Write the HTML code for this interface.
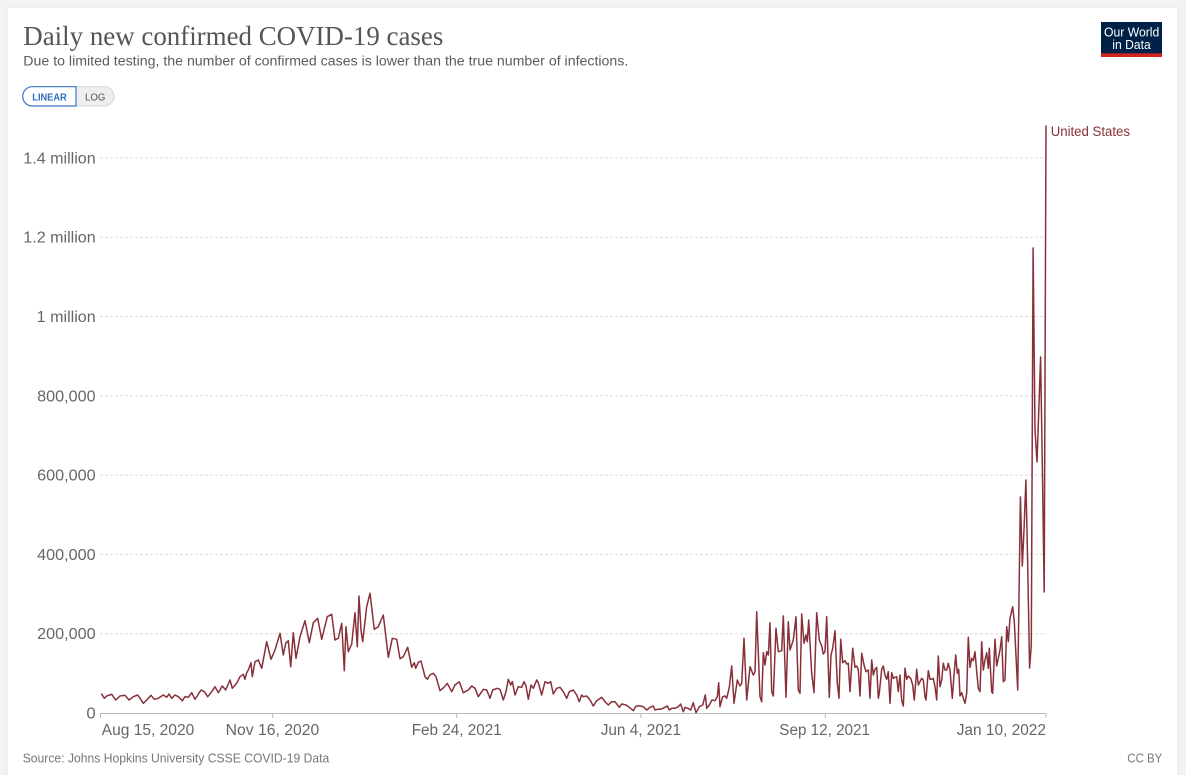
<!DOCTYPE html>
<html>
<head>
<meta charset="utf-8">
<style>
html,body{margin:0;padding:0;background:#f3f3f3;}
svg{display:block;}
text{font-family:"Liberation Sans",sans-serif;}
</style>
</head>
<body>
<svg width="1186" height="775" viewBox="0 0 1186 775" xmlns="http://www.w3.org/2000/svg">
  <rect x="0" y="0" width="1186" height="775" fill="#f3f3f3"/>
  <rect x="7" y="7" width="1171" height="790" fill="#ffffff" stroke="#e6e6e6" stroke-width="1"/>

  <!-- Title -->
  <text x="23.3" y="45" font-family="Liberation Serif, serif" style="font-family:'Liberation Serif',serif" font-size="27" fill="#555555" textLength="420" lengthAdjust="spacingAndGlyphs">Daily new confirmed COVID-19 cases</text>
  <text x="23.3" y="65.7" font-size="13.5" fill="#5b5b5b" textLength="605" lengthAdjust="spacingAndGlyphs">Due to limited testing, the number of confirmed cases is lower than the true number of infections.</text>

  <!-- Linear/Log toggle -->
  <rect x="22.7" y="86.7" width="91.3" height="19.3" rx="9.65" ry="9.65" fill="#eeeeee" stroke="#d6d6d6" stroke-width="1"/>
  <path d="M76,86.7 L32.35,86.7 A9.65,9.65 0 0 0 32.35,106 L76,106 Z" fill="#ffffff" stroke="#3a78c8" stroke-width="1.2"/>
  <text x="32.3" y="100.5" font-size="10" font-weight="bold" fill="#2b6bbf" textLength="34.4" lengthAdjust="spacingAndGlyphs">LINEAR</text>
  <text x="85" y="100.5" font-size="10" fill="#555555" textLength="20.3" lengthAdjust="spacingAndGlyphs">LOG</text>

  <!-- Logo -->
  <rect x="1101" y="22" width="61" height="35" fill="#002147"/>
  <rect x="1101" y="53.3" width="61" height="3.7" fill="#ce261e"/>
  <text x="1104" y="36.7" font-size="12.5" fill="#ffffff" textLength="55.3" lengthAdjust="spacingAndGlyphs">Our World</text>
  <text x="1112.3" y="49" font-size="12.5" fill="#ffffff" textLength="38.4" lengthAdjust="spacingAndGlyphs">in Data</text>

  <!-- Gridlines -->
  <g stroke="#dddddd" stroke-width="1" stroke-dasharray="3,2">
    <line x1="100" y1="633.7" x2="1046" y2="633.7"/>
    <line x1="100" y1="554.4" x2="1046" y2="554.4"/>
    <line x1="100" y1="475.1" x2="1046" y2="475.1"/>
    <line x1="100" y1="395.8" x2="1046" y2="395.8"/>
    <line x1="100" y1="316.5" x2="1046" y2="316.5"/>
    <line x1="100" y1="237.2" x2="1046" y2="237.2"/>
    <line x1="100" y1="157.9" x2="1046" y2="157.9"/>
  </g>

  <!-- Y labels -->
  <g font-size="15.5" fill="#666666" text-anchor="end">
    <text x="95.7" y="718.5" textLength="9.3" lengthAdjust="spacingAndGlyphs">0</text>
    <text x="95.7" y="639.2" textLength="58.5" lengthAdjust="spacingAndGlyphs">200,000</text>
    <text x="95.7" y="559.9" textLength="58.5" lengthAdjust="spacingAndGlyphs">400,000</text>
    <text x="95.7" y="480.6" textLength="58.5" lengthAdjust="spacingAndGlyphs">600,000</text>
    <text x="95.7" y="401.3" textLength="58.5" lengthAdjust="spacingAndGlyphs">800,000</text>
    <text x="95.7" y="322" textLength="59" lengthAdjust="spacingAndGlyphs">1 million</text>
    <text x="95.7" y="242.7" textLength="72.4" lengthAdjust="spacingAndGlyphs">1.2 million</text>
    <text x="95.7" y="163.4" textLength="72.4" lengthAdjust="spacingAndGlyphs">1.4 million</text>
  </g>

  <!-- X axis -->
  <line x1="100" y1="713.5" x2="1046.5" y2="713.5" stroke="#bbbbbb" stroke-width="1"/>
  <g stroke="#bbbbbb" stroke-width="1">
    <line x1="100.5" y1="713" x2="100.5" y2="718"/>
    <line x1="272.7" y1="713" x2="272.7" y2="718"/>
    <line x1="456.7" y1="713" x2="456.7" y2="718"/>
    <line x1="641" y1="713" x2="641" y2="718"/>
    <line x1="825.3" y1="713" x2="825.3" y2="718"/>
    <line x1="1046" y1="713" x2="1046" y2="718"/>
  </g>
  <g font-size="15.5" fill="#666666">
    <text x="101.7" y="735" textLength="92.6" lengthAdjust="spacingAndGlyphs">Aug 15, 2020</text>
    <text x="225.7" y="735" textLength="93.6" lengthAdjust="spacingAndGlyphs">Nov 16, 2020</text>
    <text x="411.7" y="735" textLength="90" lengthAdjust="spacingAndGlyphs">Feb 24, 2021</text>
    <text x="600.7" y="735" textLength="80.3" lengthAdjust="spacingAndGlyphs">Jun 4, 2021</text>
    <text x="779.3" y="735" textLength="90.7" lengthAdjust="spacingAndGlyphs">Sep 12, 2021</text>
    <text x="956.7" y="735" textLength="89.3" lengthAdjust="spacingAndGlyphs">Jan 10, 2022</text>
  </g>

  <!-- Series -->
  <polyline fill="none" stroke="#883039" stroke-width="1.5" stroke-linejoin="round" stroke-linecap="round" points="
101.7,694 104.3,698.3 106.7,696 111.7,694.3 115.7,700 120,696 125,695.3 129,700 133.3,696.7 137.7,695 140,698.3 143.3,703.3 146.7,700 151,695.3 154.3,699.3 158.3,698.3 163.3,695 166.7,697.3 169,694 171.7,698.3 175,695 178.3,696.7 182.3,700.7 185,696.7 188.3,697.3 191.7,692.7 195,699.3 201,690 204.3,691.7 207.7,696.7 211.7,691.7 215,686.7 218.3,692.7 222.3,686 225.7,690 230,680 232.3,688.3 236.7,683.3 240,676.7 243.3,674.3 245,679.3 246.7,672.7 248.3,670 251,662.7 252.3,676.7 255,661.7 258.3,660 261.7,668.3 266.7,641.7 271,659.3 275,650 280,633.3 283.3,655 285.7,643.3 288.3,640.7 290.7,666.7 293.3,632.7 296,658.3 300,636.7 305,620.7 309.3,642.7 313.3,622.7 317.7,618.3 321.7,639.3 327.3,616.7 331.7,614.3 335,640 338.3,638.3 341.7,623.3 344.3,670.7 346,626.7 348.3,651.7 351.7,644 355,612.7 357.3,646.7 359,596 361,630 362.7,641.7 366.7,606.7 370,593.3 374.3,629.3 378.3,626.7 383.3,615 388.3,657.3 392.3,638.3 396.7,639.3 400,658.7 403.3,656.7 407.7,647.3 411.7,667.3 414.3,662.7 415.7,668.3 418.3,662.3 421,661 425,676.7 427.3,679.3 430,675 433.3,673.3
436,676.7 440,690.7 444,687.3 447.3,683.3 451.7,691.7 455,685 459.3,681.7 463.3,692.7 468.3,690 471.7,686 475,688.3 478.3,696.7 483.3,689.3 486.7,690 490,698.3 492.7,690 497.3,688.3 500,689.3 503.3,700 506,691.7 508.3,679.3 510.7,685 512.3,681.7 515,695 518.3,686.7 521.7,687.3 524,681.7 526,686 528.3,699.3 531,685 533.3,688.3 536.7,680 538.3,682.7 541.7,695 545,681.7 548.3,683.3 550.7,681.7 553.3,694 556.7,688.3 560,687.3 563.3,691.7 566.7,698.3 569.3,691.7 573.3,690 576.7,695 579.3,701.7 581.7,695 583.3,696.7 586.7,696 590,700 593.3,706 596.7,700.7 601.7,697.3 605,701.7 608.3,705 611.7,701.7 615,701.7 619.3,707.3 621.7,704 626,705 629.3,707.3 633.3,710.7 636,706 640,706 643.3,706.7 646.7,710 650,707.3 653.3,706 655,710 657.3,709.3 660.7,709.3 665,707.3 667.3,706 669.3,710 671.7,708.3 675,708.3 678.3,706.7 680.7,704 683.3,711.7 685,707.3 687.7,708.3 690.7,710 693.3,702.7 696,712.7 699.3,706.7 702.7,705 705.3,695 706.7,708.3 709.3,705 712,700 715,700.7 717.3,696.7 718.7,682.7 720,706.7 722.7,696.7 725,696 726.7,698.3 729.3,687.3 731.7,666 734,703.3 737.3,680 740,686 741.7,683.3 744,638.3 746.7,700 750,666.7 753.3,675 755,671.7 756.7,611.7
760,696.7 761.7,701.7 763.3,652.7 765,665 766.7,651.7 768.3,655 770,622.7 771.7,691.7 773.3,696 776,628.3 778.3,651.7 781.7,650.7 783.3,616 786,697.3 788.3,621.7 790,650 793.3,640 796,616.7 798.3,690 800,693.3 801.7,614 804,643.3 806,635 807.3,641.7 808.7,620 811.7,673.3 814,692.7 816.7,612.7 819.3,640 821.7,646 823.3,654 825,651.7 826.7,616.7 829.3,697.3 831,655 832.7,648.3 835,630.7 837.3,683.3 839,698.3 840.7,639.3 842.7,662.7 845,660.7 846.7,664 848.3,663.3 850,691.7 852.7,648.3 855,667.3 856.7,666 858.3,669.3 860,696 861.7,653.3 864,665 866,671.7 868.3,670 870,698.3 871.7,660 873.3,675 875,669.3 876.7,667.3 878.3,698.3 879.3,693.3 881.7,669.3 883.3,666 885,675 886.7,679.3 888.3,671.7 890,703.3 891.7,672.7 893.3,678.3 895,677.3 896.7,676.7 898.3,691.7 900,675 901.7,700.7 903.3,706 905,668.3 906.7,679.3 908.3,676 910.7,678.3 912.7,685 914.3,700 916.7,669.3 918.3,685 920,681.7 921.7,678.3 923.3,680 925,696.7 926,700 928.3,670.7 930,679.3 931.7,679.3 933.3,678.3 935,686.7 936.7,700 938.3,656 940,686.7 941.7,680 943.3,663.3 945,670 946.7,670 948.3,663.3 950,670 952.3,698.3 954,675 955.7,655 957.3,673.3 958.7,669.3 960,696 961.7,692.7 963.3,698.3 965,703.3 966.7,693.3 968.3,637.3 970,667.3 971.7,658.3 973.3,660.7 975,651.7 976.7,671.7 978.3,688.3 980,691.7 981.7,641.7 983.3,670 985,660 986.7,652.7 988.3,668.3 989.3,648.3 991.7,691.7 992.7,693.3 995,639.3 996.7,666 998.3,658.3 1000,650 1001.7,636.7 1003.3,681.7 1005,680 1006.7,626.7 1008.3,641.7 1010,618.3 1012.7,606.7 1014.3,621.7 1017.7,690
1020.4,497 1022.3,566 1024,530 1025.9,480 1027.6,560 1029.6,668 1031.3,645 1033.1,248 1035,430 1037,462 1038.8,410 1040.6,357 1042.4,470 1044.2,592 1046,126"/>

  <!-- Series label -->
  <text x="1050.7" y="136" font-size="13.5" fill="#883039" textLength="79.3" lengthAdjust="spacingAndGlyphs">United States</text>

  <!-- Footer -->
  <text x="22.7" y="762.7" font-size="13" fill="#777777" textLength="306.6" lengthAdjust="spacingAndGlyphs">Source: Johns Hopkins University CSSE COVID-19 Data</text>
  <text x="1127.3" y="762.7" font-size="13" fill="#777777" textLength="35" lengthAdjust="spacingAndGlyphs">CC BY</text>
</svg>
</body>
</html>
